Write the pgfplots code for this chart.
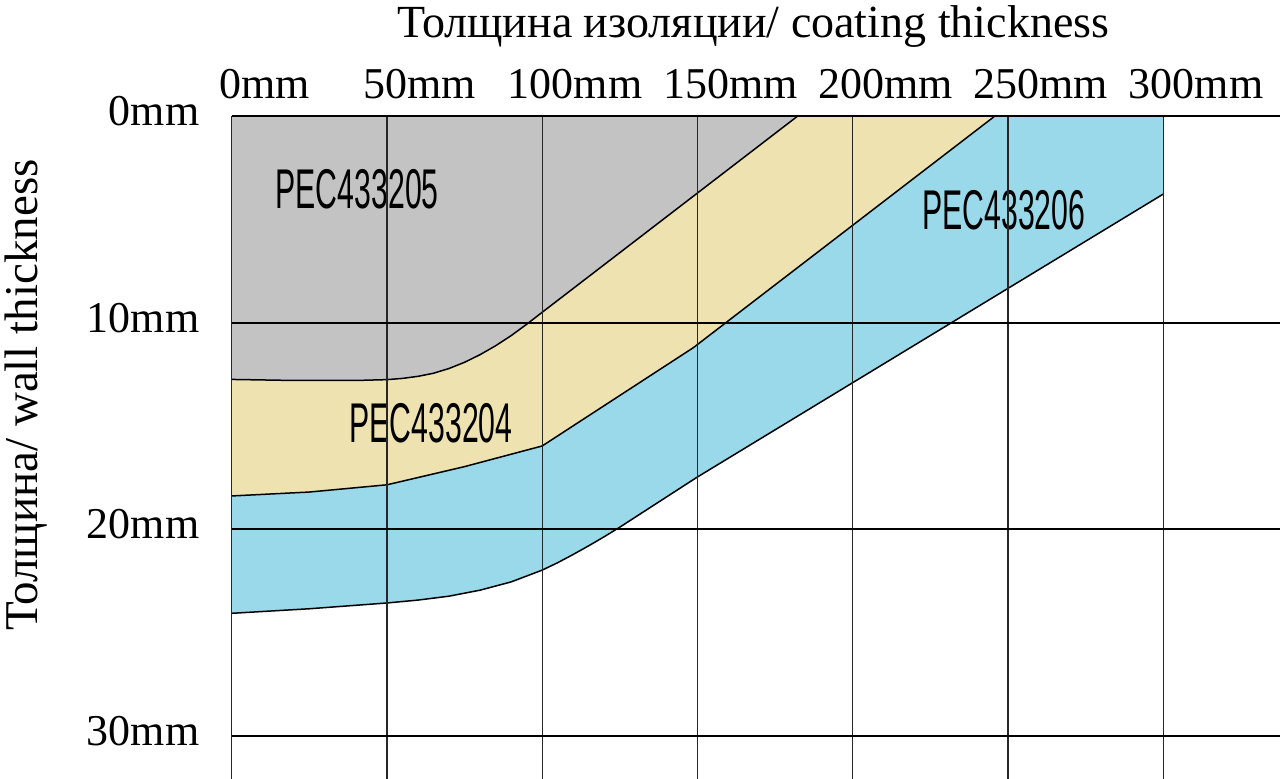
\documentclass[border=0pt]{standalone}
\usepackage{fontspec}
\setmainfont{Liberation Serif}
\newfontfamily\narrowfont[FakeStretch=0.54]{Liberation Sans}
\usepackage{pgfplots}
\pgfplotsset{compat=1.18}
\definecolor{cgray}{RGB}{195,195,195}
\definecolor{cyel}{RGB}{238,227,176}
\definecolor{cblue}{RGB}{154,217,233}
\begin{document}
\begin{tikzpicture}
\begin{axis}[
  at={(0,0)}, anchor=north west,
  x=1.5525pt, y=10.33pt,
  xmin=0, xmax=338, ymin=0, ymax=32.1,
  y dir=reverse,
  axis line style={draw=none},
  xtick={0,50,...,300}, ytick={0,10,20,30},
  xticklabels={0mm,50mm,100mm,150mm,200mm,250mm,300mm},
  yticklabels={0mm,10mm,20mm,30mm},
  xticklabel pos=upper,
  major tick length=0pt,
  xticklabel style={font=\fontsize{22}{26}\selectfont, anchor=base, inner sep=0pt, xshift=16.5pt, yshift=9pt},
  yticklabel style={font=\fontsize{22}{26}\selectfont, anchor=base east, inner sep=0pt, xshift=-16pt, yshift=-4.75pt},
  grid=major,
  major grid style={black!85, line width=0.7pt},
  y grid style={black, line width=0.9pt},
  axis on top,
  clip=false,
]
% gray region PEC433205
\addplot[fill=cgray, draw=none] coordinates {
  (0,0) (0,12.75) (20,12.8) (40,12.8) (50,12.76) (55,12.7) (60,12.6) (65,12.45) (70,12.22) (75,11.92) (80,11.55) (85,11.12) (90,10.63) (95,10.08) (100,9.5) (182.3,0) (0,0)};
% yellow region PEC433204
\addplot[fill=cyel, draw=none] coordinates {
  (0,12.75) (20,12.8) (40,12.8) (50,12.76) (55,12.7) (60,12.6) (65,12.45) (70,12.22) (75,11.92) (80,11.55) (85,11.12) (90,10.63) (95,10.08) (100,9.5) (182.3,0)
  (245.8,0) (148.7,11.21) (100,15.97) (75,16.97) (50,17.85) (25,18.2) (0,18.39) (0,12.75)};
% blue region PEC433206
\addplot[fill=cblue, draw=none] coordinates {
  (0,18.39) (25,18.2) (50,17.85) (75,16.97) (100,15.97) (148.7,11.21) (245.8,0)
  (300,0) (300,3.78) (149.8,17.49) (125,19.9) (120,20.36) (115,20.8) (110,21.22) (105,21.62) (100,21.98) (90,22.55) (80,22.95) (70,23.24) (60,23.43) (50,23.57) (25,23.85) (0,24.07) (0,18.39)};
% boundaries
\addplot[black, line width=0.75pt] coordinates {
  (0,12.75) (20,12.8) (40,12.8) (50,12.76) (55,12.7) (60,12.6) (65,12.45) (70,12.22) (75,11.92) (80,11.55) (85,11.12) (90,10.63) (95,10.08) (100,9.5) (182.3,0)};
\addplot[black, line width=0.75pt] coordinates {
  (0,18.39) (25,18.2) (50,17.85) (75,16.97) (100,15.97) (148.7,11.21) (245.8,0)};
\addplot[black, line width=0.75pt] coordinates {
  (0,24.07) (25,23.85) (50,23.57) (60,23.43) (70,23.24) (80,22.95) (90,22.55) (100,21.98) (105,21.62) (110,21.22) (115,20.8) (120,20.36) (125,19.9) (149.8,17.49) (300,3.78)};
% labels
\node[font=\narrowfont\fontsize{28}{30}\selectfont] at (axis cs:40.4,3.53) {PEC433205};
\node[font=\narrowfont\fontsize{28}{30}\selectfont] at (axis cs:64.2,14.86) {PEC433204};
\node[font=\narrowfont\fontsize{28}{30}\selectfont] at (axis cs:248.7,4.55) {PEC433206};
\node[anchor=base, font=\fontsize{23}{27}\selectfont] at (axis cs:168,-3.78) {Толщина изоляции/ coating thickness};
\node[anchor=base, rotate=90, font=\fontsize{23.5}{27}\selectfont] at (axis cs:-62.4,13.5) {Толщина/ wall thickness};
\end{axis}
\pgfresetboundingbox
\useasboundingbox (-115.85pt,58pt) rectangle (524.15pt,-331pt);
\end{tikzpicture}
\end{document}
